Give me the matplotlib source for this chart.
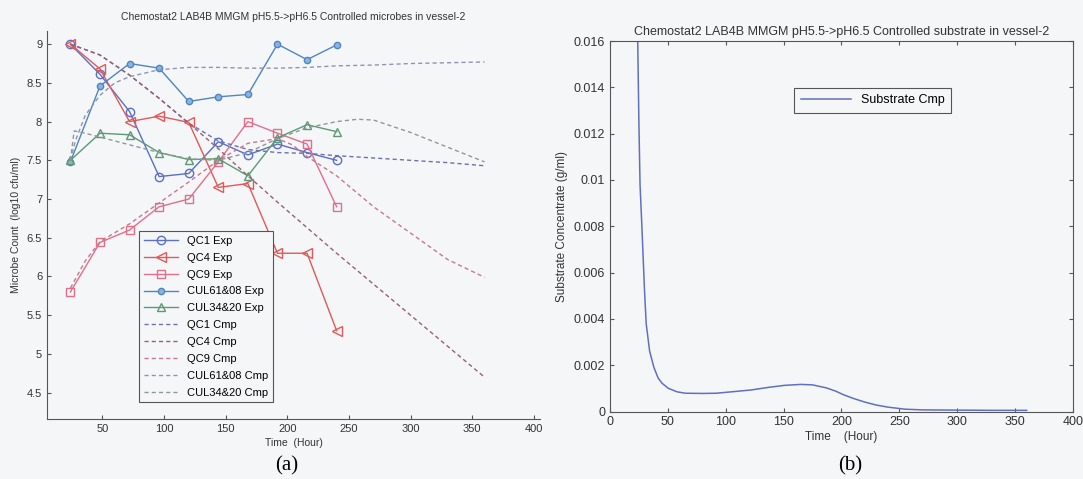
import matplotlib
matplotlib.use("Agg")
from matplotlib import pyplot as plt
from matplotlib.ticker import FormatStrFormatter

plt.rcParams['font.family'] = ['Liberation Sans', 'DejaVu Sans']

# experimental sampling times (hours)
exp_time = [24, 48, 72, 96, 120, 144, 168, 192, 216, 240]
qc1_exp = [9.0, 8.61, 8.13, 7.29, 7.33, 7.74, 7.57, 7.71, 7.6, 7.5]
qc4_exp = [9.0, 8.68, 8.0, 8.07, 7.99, 7.15, 7.2, 6.3, 6.3, 5.3]
qc9_exp = [5.8, 6.44, 6.6, 6.9, 7.0, 7.48, 8.0, 7.85, 7.71, 6.9]
cul6108_exp = [7.48, 8.46, 8.75, 8.69, 8.26, 8.32, 8.35, 9.0, 8.8, 8.99]
cul3420_exp = [7.5, 7.85, 7.83, 7.6, 7.51, 7.52, 7.3, 7.79, 7.96, 7.87]

# computed (model) curves
cmp_time = [24, 48, 72, 96, 120, 144, 168, 192, 216, 240, 270, 300, 330, 360]
qc1_cmp = [9.0, 8.86, 8.6, 8.3, 7.98, 7.75, 7.64, 7.6, 7.59, 7.56, 7.53, 7.5, 7.47, 7.43]
qc4_cmp = [9.0, 8.86, 8.6, 8.3, 7.98, 7.65, 7.3, 6.96, 6.63, 6.3, 5.9, 5.5, 5.1, 4.7]

qc9_time = [24, 36, 48, 72, 96, 120, 144, 168, 192, 204, 216, 240, 270, 300, 330, 360]
qc9_cmp = [5.85, 6.2, 6.45, 6.68, 6.95, 7.22, 7.5, 7.72, 7.78, 7.7, 7.55, 7.3, 6.9, 6.56, 6.22, 5.99]

cul6108_time = [24, 28, 36, 48, 60, 72, 96, 120, 144, 168, 192, 216, 240, 270, 300, 330, 360]
cul6108_cmp = [7.5, 7.75, 8.08, 8.34, 8.5, 8.58, 8.67, 8.7, 8.7, 8.69, 8.69, 8.7, 8.72, 8.73, 8.75, 8.76, 8.77]

cul3420_time = [24, 27, 36, 48, 72, 96, 120, 144, 168, 192, 216, 240, 257, 270, 300, 330, 360]
cul3420_cmp = [7.5, 7.88, 7.85, 7.8, 7.7, 7.6, 7.52, 7.5, 7.6, 7.78, 7.92, 8.0, 8.03, 8.02, 7.86, 7.67, 7.48]

# substrate
sub_time = [23.5, 24, 25, 26, 27.5, 29.8, 31.3, 34.3, 38, 41.6, 45, 50.5, 58, 65, 80, 92, 105,
            122, 138, 151, 165, 175, 187, 195, 202, 210, 220, 230, 240, 255, 270, 300, 330, 360]
sub_cmp = [0.02, 0.016, 0.0125, 0.0098, 0.0081, 0.0053, 0.0038, 0.0026, 0.0019, 0.00145, 0.00122,
           0.001, 0.00085, 0.00079, 0.00078, 0.00079, 0.00085, 0.00093, 0.00105, 0.00113, 0.00117,
           0.00115, 0.00102, 0.00088, 0.00072, 0.00057, 0.00041, 0.00028, 0.00019, 0.0001, 0.00007,
           0.00006, 0.00005, 0.00005]

bg = '#f5f6f8'
fig = plt.figure(figsize=(10.83, 4.79), dpi=100, facecolor=bg)

# ---- (a) microbes ----
ax = fig.add_axes([0.0434, 0.1253, 0.4552, 0.81], facecolor=bg)
ax.plot(exp_time, qc1_exp, '-o', color='#5b6fc4', mfc='none', ms=6, lw=1, label='QC1 Exp')
ax.plot(exp_time, qc4_exp, '-<', color='#e05a5a', mfc='none', ms=7, lw=1, label='QC4 Exp')
ax.plot(exp_time, qc9_exp, '-s', color='#e0708a', mfc='none', ms=6, lw=1, label='QC9 Exp')
ax.plot(exp_time, cul6108_exp, '-o', color='#4f86c0', mfc='#8ab4e0', ms=4.5, lw=1, label='CUL61&08 Exp')
ax.plot(exp_time, cul3420_exp, '-^', color='#5c9a74', mfc='none', ms=6, lw=1, label='CUL34&20 Exp')

dash = (3, 2.2)
ax.plot(cmp_time, qc1_cmp, '--', dashes=dash, color='#6a72b0', lw=1, label='QC1 Cmp')
ax.plot(cmp_time, qc4_cmp, '--', dashes=dash, color='#9a6070', lw=1, label='QC4 Cmp')
ax.plot(qc9_time, qc9_cmp, '--', dashes=dash, color='#c8788c', lw=1, label='QC9 Cmp')
ax.plot(cul6108_time, cul6108_cmp, '--', dashes=dash, color='#8c96b4', lw=1, label='CUL61&08 Cmp')
ax.plot(cul3420_time, cul3420_cmp, '--', dashes=dash, color='#909898', lw=1, label='CUL34&20 Cmp')

ax.set_xlim(5, 405)
ax.set_ylim(4.16, 9.17)
ax.set_xticks([50, 100, 150, 200, 250, 300, 350, 400])
ax.set_yticks([4.5, 5, 5.5, 6, 6.5, 7, 7.5, 8, 8.5, 9])
ax.yaxis.set_major_formatter(FormatStrFormatter('%g'))
ax.tick_params(direction='in', labelsize=8, length=3, color='#555555', labelcolor='#333333')
for s in ['top', 'right']:
    ax.spines[s].set_visible(False)
for s in ['left', 'bottom']:
    ax.spines[s].set_color('#555555')
ax.set_title('Chemostat2 LAB4B MMGM pH5.5->pH6.5 Controlled microbes in vessel-2',
             fontsize=7.5, color='#333333', pad=8)
ax.set_xlabel('Time  (Hour)', fontsize=7.5, color='#333333', labelpad=3)
ax.set_ylabel('Microbe Count  (log10 cfu/ml)', fontsize=7.5, color='#333333', labelpad=4)
leg = ax.legend(loc='lower left', bbox_to_anchor=(0.176, 0.029), fontsize=8,
                handlelength=3.1, labelspacing=0.62, fancybox=False, framealpha=1,
                facecolor=bg, edgecolor='#555555', borderpad=0.4)
leg.get_frame().set_linewidth(0.8)

# ---- (b) substrate ----
bx = fig.add_axes([0.5632, 0.1409, 0.4275, 0.7735], facecolor=bg)
bx.plot(sub_time, sub_cmp, '-', color='#6070c0', lw=1.1, label='Substrate Cmp')
bx.set_xlim(0, 400)
bx.set_ylim(0, 0.016)
bx.set_xticks([0, 50, 100, 150, 200, 250, 300, 350, 400])
bx.set_yticks([0, 0.002, 0.004, 0.006, 0.008, 0.01, 0.012, 0.014, 0.016])
bx.yaxis.set_major_formatter(FormatStrFormatter('%g'))
bx.tick_params(direction='in', labelsize=9, length=3, top=True, right=True,
               color='#555555', labelcolor='#333333')
for s in bx.spines.values():
    s.set_color('#555555')
bx.set_title('Chemostat2 LAB4B MMGM pH5.5->pH6.5 Controlled substrate in vessel-2',
             fontsize=9, color='#333333', pad=4)
bx.set_xlabel('Time    (Hour)', fontsize=8.5, color='#333333', labelpad=2)
bx.set_ylabel('Substrate Concentrate (g/ml)', fontsize=8.5, color='#333333', labelpad=4)
leg2 = bx.legend(loc='lower left', bbox_to_anchor=(0.385, 0.79), fontsize=9,
                 handlelength=4, fancybox=False, framealpha=1, facecolor=bg,
                 edgecolor='#555555', borderpad=0.5)
leg2.get_frame().set_linewidth(0.8)

# panel captions
fig.text(287 / 1083, 0.008, '(a)', ha='center', va='bottom', fontsize=15, family='Liberation Serif')
fig.text(850 / 1083, 0.008, '(b)', ha='center', va='bottom', fontsize=15, family='Liberation Serif')

fig.savefig('out.png', dpi=100, facecolor=bg)
